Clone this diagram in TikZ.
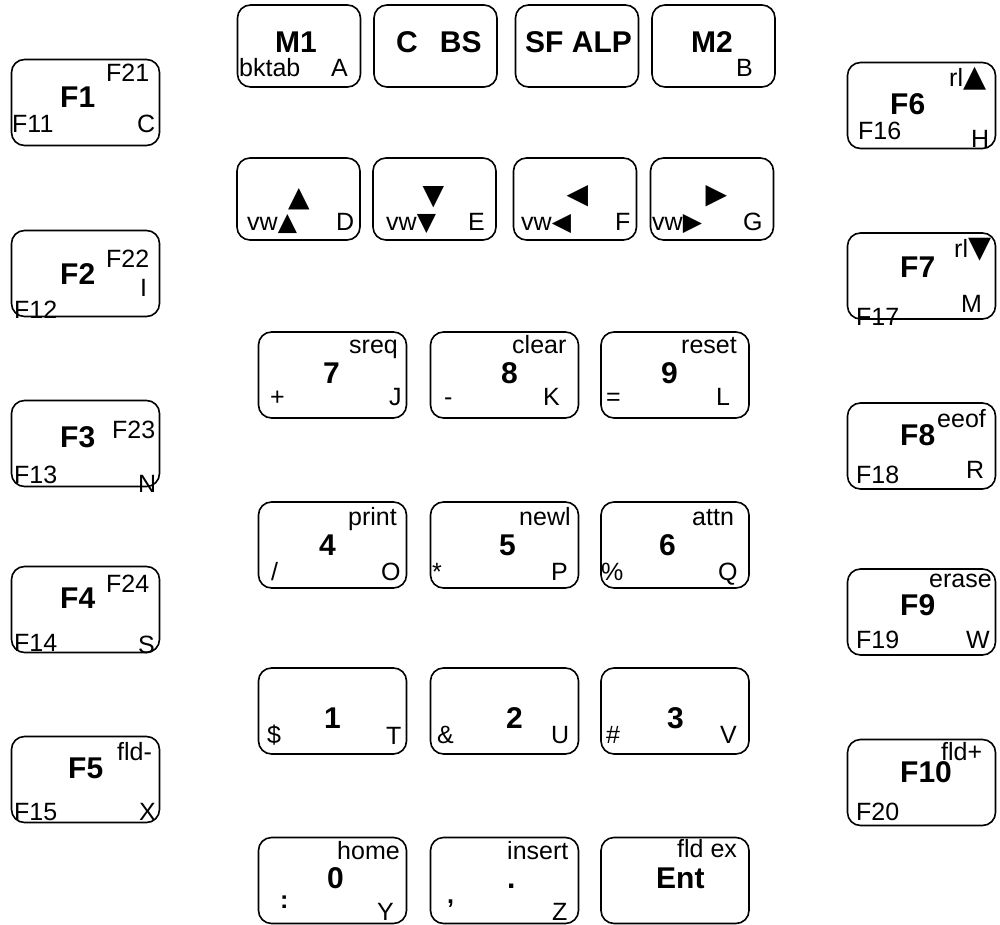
\documentclass[tikz,border=0pt]{standalone}
\usepackage{fontspec}
\setmainfont{Liberation Sans}
\newfontfamily\symfont{DejaVu Sans}
\usetikzlibrary{positioning}
\newcommand{\tri}[2]{{\symfont\fontsize{#1}{#1}\selectfont #2}}
\tikzset{
  keybox/.style={
    draw,
    line width=1.6pt,
    rounded corners=13pt,
    minimum width=148pt,
    minimum height=86pt,
    inner sep=0pt
  },
  topkey/.style={keybox,minimum width=123pt,minimum height=82pt},
  sublbl/.style={inner sep=0pt,anchor=base west,font=\fontsize{25}{25}\selectfont},
  mainlbl/.style={sublbl,font=\fontsize{30}{30}\selectfont\bfseries},
  bigtri/.style={inner sep=0pt,anchor=center}
}

\begin{document}
\begin{tikzpicture}[x=1pt,y=-1pt]
  \useasboundingbox (0,0) rectangle (1000,925);

  % left function keys
  \node[keybox] (f1) at (85.5,102.5) {};
  \node[mainlbl] (f1m) at (60,108) {F1};
  \node[sublbl] (f1tr) at (106,82) {F21};
  \node[sublbl] (f1bl) at (12,133) {F11};
  \node[sublbl] (f1br) at (137,133) {C};

  \node[keybox] (f2) at (85.5,273.5) {};
  \node[mainlbl] (f2m) at (60,284) {F2};
  \node[sublbl] (f2tr) at (106,267) {F22};
  \node[sublbl] (f2bl) at (14,318) {F12};
  \node[sublbl] (f2br) at (140,296) {I};

  \node[keybox] (f3) at (85.5,443.5) {};
  \node[mainlbl] (f3m) at (60,447) {F3};
  \node[sublbl] (f3tr) at (112,438) {F23};
  \node[sublbl] (f3bl) at (14,483) {F13};
  \node[sublbl] (f3br) at (138,492) {N};

  \node[keybox] (f4) at (85.5,609.5) {};
  \node[mainlbl] (f4m) at (60,608) {F4};
  \node[sublbl] (f4tr) at (106,592) {F24};
  \node[sublbl] (f4bl) at (14,651) {F14};
  \node[sublbl] (f4br) at (138,653) {S};

  \node[keybox] (f5) at (85.5,779.5) {};
  \node[mainlbl] (f5m) at (68,778) {F5};
  \node[sublbl] (f5tr) at (117,760) {fld-};
  \node[sublbl] (f5bl) at (14,820) {F15};
  \node[sublbl] (f5br) at (139,820) {X};

  % right function keys
  \node[keybox] (f6) at (921.5,105.5) {};
  \node[mainlbl] (f6m) at (890,115) {F6};
  \node[sublbl] (f6tr) at (949,87) {rl\tri{30}{▲}};
  \node[sublbl] (f6bl) at (858,140) {F16};
  \node[sublbl] (f6br) at (971,148) {H};

  \node[keybox] (f7) at (921.5,276) {};
  \node[mainlbl] (f7m) at (900,277) {F7};
  \node[sublbl] (f7tr) at (954,257) {rl\tri{30}{▼}};
  \node[sublbl] (f7bl) at (856,325) {F17};
  \node[sublbl] (f7br) at (961,312) {M};

  \node[keybox] (f8) at (921.5,446) {};
  \node[mainlbl] (f8m) at (900,445) {F8};
  \node[sublbl] (f8tr) at (937,427) {eeof};
  \node[sublbl] (f8bl) at (856,483) {F18};
  \node[sublbl] (f8br) at (966,478) {R};

  \node[keybox] (f9) at (921.5,612) {};
  \node[mainlbl] (f9m) at (900,615) {F9};
  \node[sublbl] (f9tr) at (929,587) {erase};
  \node[sublbl] (f9bl) at (856,648) {F19};
  \node[sublbl] (f9br) at (966,648) {W};

  \node[keybox] (f10) at (921.5,782.5) {};
  \node[mainlbl] (f10m) at (900,782) {F10};
  \node[sublbl] (f10tr) at (941,760) {fld+};
  \node[sublbl] (f10bl) at (856,820) {F20};

  % top row
  \node[topkey] (m1) at (299,46) {};
  \node[mainlbl] (m1m) at (275,53) {M1};
  \node[sublbl] (m1bl) at (239,77) {bktab};
  \node[sublbl] (m1br) at (331,77) {A};

  \node[topkey] (cbs) at (435.5,46) {};
  \node[mainlbl] (cbsm) at (396,53) {C\hspace{22pt}BS};

  \node[topkey] (sfalp) at (577,46) {};
  \node[mainlbl] (sfalpm) at (525,53) {SF ALP};

  \node[topkey] (m2) at (713.5,46) {};
  \node[mainlbl] (m2m) at (691,53) {M2};
  \node[sublbl] (m2br) at (736,77) {B};

  % view keys
  \node[topkey] (vwup) at (298.5,199) {};
  \node[bigtri] (vwupm) at (299,199.5) {\tri{28}{▲}};
  \node[sublbl] (vwupbl) at (247,230) {vw\tri{25}{▲}};
  \node[sublbl] (vwupbr) at (336,230) {D};

  \node[topkey] (vwdn) at (434.5,199) {};
  \node[bigtri] (vwdnm) at (433.5,197.5) {\tri{28}{▼}};
  \node[sublbl] (vwdnbl) at (386,230) {vw\tri{25}{▼}};
  \node[sublbl] (vwdnbr) at (468,230) {E};

  \node[topkey] (vwlt) at (575,199) {};
  \node[bigtri] (vwltm) at (577.5,196.5) {\tri{28}{◀}};
  \node[sublbl] (vwltbl) at (521,230) {vw\tri{25}{◀}};
  \node[sublbl] (vwltbr) at (615,230) {F};

  \node[topkey] (vwrt) at (712,199) {};
  \node[bigtri] (vwrtm) at (716.5,196.5) {\tri{28}{▶}};
  \node[sublbl] (vwrtbl) at (652,230) {vw\tri{25}{▶}};
  \node[sublbl] (vwrtbr) at (743,230) {G};

  % number pad
  \node[keybox] (k7) at (332.5,375) {};
  \node[mainlbl] (k7m) at (323,383) {7};
  \node[sublbl] (k7tr) at (349,353) {sreq};
  \node[sublbl] (k7bl) at (270,405) {+};
  \node[sublbl] (k7br) at (389,405) {J};

  \node[keybox] (k8) at (504.5,375) {};
  \node[mainlbl] (k8m) at (501,383) {8};
  \node[sublbl] (k8tr) at (512,353) {clear};
  \node[sublbl] (k8bl) at (444,405) {-};
  \node[sublbl] (k8br) at (543,405) {K};

  \node[keybox] (k9) at (675,375) {};
  \node[mainlbl] (k9m) at (661,383) {9};
  \node[sublbl] (k9tr) at (681,353) {reset};
  \node[sublbl] (k9bl) at (606,405) {=};
  \node[sublbl] (k9br) at (716,405) {L};

  \node[keybox] (k4) at (332.5,545) {};
  \node[mainlbl] (k4m) at (319,555) {4};
  \node[sublbl] (k4tr) at (348,525) {print};
  \node[sublbl] (k4bl) at (271,580) {/};
  \node[sublbl] (k4br) at (381,580) {O};

  \node[keybox] (k5) at (504.5,545) {};
  \node[mainlbl] (k5m) at (499,555) {5};
  \node[sublbl] (k5tr) at (519,525) {newl};
  \node[sublbl] (k5bl) at (432,580) {*};
  \node[sublbl] (k5br) at (551,580) {P};

  \node[keybox] (k6) at (675,545) {};
  \node[mainlbl] (k6m) at (659,555) {6};
  \node[sublbl] (k6tr) at (692,525) {attn};
  \node[sublbl] (k6bl) at (601,580) {\%};
  \node[sublbl] (k6br) at (718,580) {Q};

  \node[keybox] (k1) at (332.5,711) {};
  \node[mainlbl] (k1m) at (324,728) {1};
  \node[sublbl] (k1bl) at (267,743) {\$};
  \node[sublbl] (k1br) at (386,744) {T};

  \node[keybox] (k2) at (504.5,711) {};
  \node[mainlbl] (k2m) at (506,728) {2};
  \node[sublbl] (k2bl) at (437,743) {\&};
  \node[sublbl] (k2br) at (551,743) {U};

  \node[keybox] (k3) at (675,711) {};
  \node[mainlbl] (k3m) at (667,728) {3};
  \node[sublbl] (k3bl) at (606,743) {\#};
  \node[sublbl] (k3br) at (720,743) {V};

  \node[keybox] (k0) at (332.5,880.5) {};
  \node[mainlbl] (k0m) at (327,888) {0};
  \node[sublbl] (k0tr) at (337,859) {home};
  \node[sublbl,font=\fontsize{25}{25}\selectfont\bfseries] (k0bl) at (280,908) {:};
  \node[sublbl] (k0br) at (377,920) {Y};

  \node[keybox] (kdot) at (504.5,880.5) {};
  \node[mainlbl] (kdotm) at (507,888) {.};
  \node[sublbl] (kdottr) at (507,859) {insert};
  \node[sublbl,font=\fontsize{25}{25}\selectfont\bfseries] (kdotbl) at (447,903) {,};
  \node[sublbl] (kdotbr) at (552,920) {Z};

  \node[keybox] (kent) at (675,880.5) {};
  \node[mainlbl] (kentm) at (656,888) {Ent};
  \node[sublbl] (kenttr) at (677,857) {fld ex};
\end{tikzpicture}
\end{document}
